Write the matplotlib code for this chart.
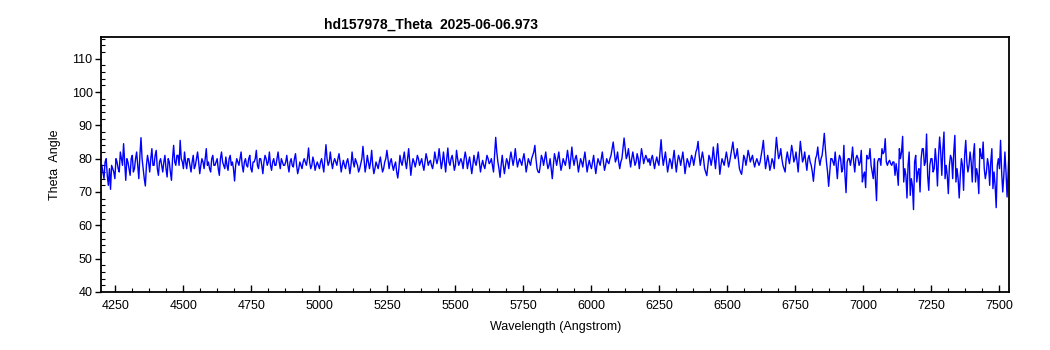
import numpy as np
import matplotlib.pyplot as plt
from matplotlib.ticker import MultipleLocator

plt.rcParams['font.family'] = ['Liberation Sans', 'DejaVu Sans']

# wavelength grid: main samples every 8 A from 4200, in-between samples offset by 4 A
wl_start = 4200
wl_step = 8

theta_a = [78, 74, 80, 72, 70.8, 77, 74, 79, 76, 80, 84.5, 73.5,
           79, 75, 81, 77, 82, 74, 86.3, 77, 71.8,
           81, 76, 83, 78, 82.5, 75,
           80, 76, 81, 74.5, 79,
           73.5, 84, 78, 81, 85.5, 79,
           82, 77, 80, 76, 81, 78, 82, 75.5, 80, 77, 83, 79, 76, 81, 78, 80,
           75, 82, 78, 80.5, 76.5, 81, 79,
           73.3, 80,
           78, 82, 76, 80, 77.5, 81, 76, 79, 82.5, 77, 80, 75.5, 81, 78, 82,
           76.5, 80, 78, 82, 77, 79]
theta_b = [78, 81, 76, 80, 77.5, 81.5, 75.5, 79, 77, 80, 78,
           83.2, 77, 80.5, 76.5, 79, 77, 80, 76, 84.2, 78, 82, 77,
           80, 78, 81.5, 76, 79.5, 77, 80, 75.5, 82, 77.5, 79, 76, 78.5,
           83.7, 76, 81, 77, 82.5, 75.5, 79, 77, 80.5, 76, 79, 82.5, 77,
           80, 76.5, 79,
           74.2, 81, 78, 82, 77, 83, 75, 80, 77.5, 81, 78,
           80, 76.5, 81.5, 78, 79.5, 77, 82, 78.5,
           83, 77, 82, 76, 83.2, 78, 81, 76.5, 82.5, 78, 80, 77, 82]
theta_c = [77, 80.5, 75.5, 81, 78, 82, 76, 79.5, 77, 81, 78.5, 80,
           76, 86.4, 79, 74.4, 81, 75.5, 80, 77, 82, 78,
           83, 77.5, 80, 78, 81.5, 76, 80, 78, 81,
           84, 77, 75.8, 81, 78, 82, 77, 80,
           74, 81.5, 78, 82, 76.5, 80, 78, 82.5, 77,
           83.5, 78, 81, 76, 80, 77.5, 82, 76, 79.5,
           77, 81, 75.5, 80, 78, 82, 76.5, 80, 78.5, 81,
           85, 79, 82, 77, 80, 86.2, 80, 83, 77.5, 82, 78, 81.5, 77, 83,
           78.5, 81, 79]
theta_d = [78, 81, 77, 80.5, 78,
           85.7, 78, 82, 76, 80, 77, 82.5, 76, 81, 78, 82, 75.5, 80, 77.5,
           81, 78,
           82, 85.2, 78, 82, 77, 74.9, 81, 78, 83.5, 77, 84.5, 75.3, 80, 78,
           82, 77.5, 81,
           85, 80, 83, 77, 75.3, 81, 78, 82.5, 79, 81, 77.5, 80, 78,
           81, 85.5, 77, 81, 76.5, 80, 77, 86.4, 80, 83, 78, 76, 82, 78.5,
           84,
           79, 82, 76, 85.2, 79, 82, 76.5, 81, 78, 73.2, 80, 83.5, 78, 81,
           87.6, 79, 71.7, 80]
theta_e = [79, 82, 74, 81, 76, 84,
           69.8, 80, 78, 83.5, 76, 81, 78, 82.5, 75, 71.3, 80, 83, 76, 80,
           67.4, 80, 78, 81.5, 86, 78, 79.5, 78, 79, 78.5, 72, 80, 86.7, 77,
           68.2, 82, 74, 64.7, 81, 76, 70, 83, 78, 87.4, 70.5, 80, 76, 83,
           71.8, 86.5, 75, 88, 78, 69.5, 81, 74, 87, 77, 68.2, 80, 70.5,
           85.5, 76, 82, 73, 84.5, 77, 69.5, 81, 85, 74, 80, 72, 83, 76,
           65.3, 80, 85.5, 70, 82, 68.5, 84]

# in-between samples
mid_a = [76, 79, 75, 77, 78, 76, 80, 77, 82, 78, 79, 80,
         77, 80, 76, 80, 78, 81, 80, 74, 78,
         79, 80, 78, 81, 77, 79,
         78, 79, 77, 80, 76,
         80, 79, 81, 78, 80, 77,
         79, 80, 78, 79, 77, 80, 79, 78, 79, 80, 78, 77, 80, 78, 79, 77,
         80, 79, 77, 78, 80, 78, 77,
         78, 79,
         80, 78, 79, 78, 80, 77, 79, 80, 78, 80, 78, 79, 80, 79, 78,
         79, 78, 80, 79, 80, 78]
mid_b = [79, 78, 79, 78, 80, 78, 77, 78, 79, 79, 80,
         79, 78, 79, 78, 78, 79, 78, 80, 80, 79, 79, 79,
         79, 80, 79, 78, 78, 79, 78, 78, 79, 80, 78, 77, 80,
         80, 78, 79, 79, 78, 77, 78, 79, 78, 77, 80, 80, 79,
         78, 78, 76,
         77, 79, 80, 79, 80, 79, 78, 79, 79, 80, 79,
         78, 79, 80, 79, 78, 79, 80, 80,
         80, 79, 79, 80, 79, 80, 79, 78, 80, 79, 79, 80, 80]
mid_c = [79, 78, 78, 79, 80, 79, 78, 78, 79, 80, 79, 78,
         81, 82, 77, 78, 78, 78, 79, 80, 80, 80,
         80, 79, 79, 80, 79, 78, 79, 80, 82,
         80, 76, 78, 80, 80, 79, 78, 77,
         78, 80, 80, 79, 78, 79, 80, 80, 80,
         80, 80, 79, 78, 79, 80, 79, 78, 78,
         79, 78, 78, 79, 80, 79, 78, 79, 80, 83,
         82, 80, 79, 79, 83, 83, 81, 80, 80, 80, 79, 80, 80, 81,
         80, 80, 80]
mid_d = [80, 79, 79, 79, 82,
         81, 80, 79, 78, 79, 80, 79, 79, 80, 80, 79, 78, 79, 79,
         80, 80,
         83, 81, 80, 80, 76, 78, 80, 80, 80, 81, 80, 78, 79, 80,
         80, 79, 83,
         82, 81, 80, 76, 78, 80, 80, 81, 80, 79, 79, 79, 79,
         83, 81, 79, 79, 78, 79, 82, 83, 81, 80, 77, 80, 80, 81,
         82,
         80, 79, 81, 82, 80, 79, 80, 79, 76, 77, 81, 80, 80, 84,
         83, 76, 76]
mid_e = [80, 78, 78, 79, 80, 77,
         75, 79, 80, 80, 79, 80, 80, 79, 73, 76, 81, 80, 78, 74,
         74, 79, 80, 83, 82, 79, 79, 78.5, 79, 75, 76, 83, 82, 73,
         75, 78, 69, 72, 79, 73, 77, 80, 83, 79, 75, 78, 80, 77,
         79, 81, 82, 83, 74, 75, 78, 80, 82, 73, 74, 75, 78,
         81, 79, 78, 79, 81, 73, 75, 83, 80, 77, 76, 78, 79, 71,
         72, 78, 77, 76, 75, 76]

main = np.array(theta_a + theta_b + theta_c + theta_d + theta_e)
mid = np.array(mid_a + mid_b + mid_c + mid_d + mid_e)
wl_main = wl_start + wl_step * np.arange(len(main))
wl_mid = wl_start + wl_step / 2 + wl_step * np.arange(len(mid))

wavelength = np.concatenate([wl_main, wl_mid])
theta = np.concatenate([main, mid])
order = np.argsort(wavelength)
wavelength = wavelength[order]
theta = theta[order]

fig = plt.figure(figsize=(10.5, 3.5), dpi=100)
ax = fig.add_axes([0.0962, 0.166, 0.865, 0.728])
ax.plot(wavelength, theta, color='#0000ff', linewidth=1.0)

ax.set_xlim(4197, 7536)
ax.set_ylim(40, 116.5)

ax.xaxis.set_major_locator(MultipleLocator(250))
ax.xaxis.set_minor_locator(MultipleLocator(62.5))
ax.yaxis.set_major_locator(MultipleLocator(10))
ax.yaxis.set_minor_locator(MultipleLocator(2))
ax.tick_params(axis='x', which='major', direction='in', length=5, width=1, labelsize=9, pad=6)
ax.tick_params(axis='x', which='minor', direction='in', length=3, width=0.8)
ax.tick_params(axis='y', which='major', direction='out', length=4, width=1, labelsize=9, pad=2)
ax.tick_params(axis='y', which='minor', direction='in', length=3, width=0.8)

for side in ax.spines.values():
    side.set_linewidth(1.3)

ax.set_xlabel('Wavelength (Angstrom)', fontsize=9, labelpad=6)
ax.set_ylabel('Theta  Angle', fontsize=9, labelpad=8)
fig.text(0.41, 0.93, 'hd157978_Theta  2025-06-06.973', ha='center', va='center',
         fontsize=10, fontweight='bold')

fig.savefig('out.png', dpi=100)
